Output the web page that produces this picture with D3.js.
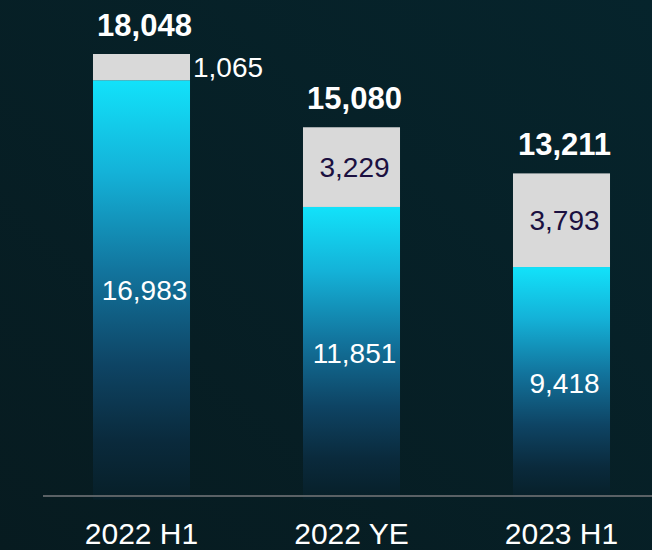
<!DOCTYPE html>
<html>
<head>
<meta charset="utf-8">
<script src="https://cdn.jsdelivr.net/npm/d3@7"></script>
<style>
  html, body { margin: 0; padding: 0; background: #062027; }
  body { width: 652px; height: 550px; overflow: hidden; }
  svg { display: block; font-family: "Liberation Sans", Arial, sans-serif; }
</style>
</head>
<body>
<svg id="chart" width="652" height="550"></svg>
<script>
// Periods and the two stacked components of each bar
const categories = ["2022 H1", "2022 YE", "2023 H1"];
const baseValues = [16983, 11851, 9418];   // lower (blue) segment
const topValues  = [1065, 3229, 3793];     // upper (grey) segment
const totals     = [18048, 15080, 13211];  // stacked total shown above each bar

const W = 652, H = 550;
const svg = d3.select("#chart");
const defs = svg.append("defs");

// Dark teal backdrop
const bg = defs.append("linearGradient").attr("id", "bg")
  .attr("x1", 1).attr("y1", 0).attr("x2", 0).attr("y2", 1);
bg.append("stop").attr("offset", "0%").attr("stop-color", "#06242c");
bg.append("stop").attr("offset", "100%").attr("stop-color", "#071b20");
svg.append("rect").attr("width", W).attr("height", H).attr("fill", "url(#bg)");

// Cyan-to-dark fill for the lower segment
const barGrad = defs.append("linearGradient").attr("id", "barGrad")
  .attr("x1", 0).attr("y1", 0).attr("x2", 0).attr("y2", 1);
[
  ["0%", "#12e2fa"],
  ["22%", "#14b2d8"],
  ["46%", "#12739c"],
  ["68%", "#0e4464"],
  ["86%", "#0a2a3c"],
  ["100%", "#071f28"]
].forEach(([o, c]) => barGrad.append("stop").attr("offset", o).attr("stop-color", c));

const x = d3.scaleBand()
  .domain(categories)
  .range([36.5, 666.5])
  .paddingInner(0.538)
  .paddingOuter(0.269);

const y = d3.scaleLinear()
  .domain([0, d3.max(totals)])
  .range([499.5, 54]);

const rows = categories.map((c, i) => ({
  cat: c, base: baseValues[i], top: topValues[i], total: totals[i]
}));

const stack = d3.stack().keys(["base", "top"])(rows);

const labelShift = 3;

// Blue lower segments
svg.append("g").selectAll("rect")
  .data(stack[0])
  .join("rect")
  .attr("x", d => x(d.data.cat))
  .attr("width", x.bandwidth())
  .attr("y", d => y(d[1]))
  .attr("height", d => y(d[0]) - y(d[1]))
  .attr("fill", "url(#barGrad)");

// Grey upper segments
svg.append("g").selectAll("rect")
  .data(stack[1])
  .join("rect")
  .attr("x", d => x(d.data.cat))
  .attr("width", x.bandwidth())
  .attr("y", d => y(d[1]))
  .attr("height", d => y(d[0]) - y(d[1]))
  .attr("fill", "#d9d9d9");

// Baseline rule
svg.append("line")
  .attr("x1", 43).attr("x2", W)
  .attr("y1", 496).attr("y2", 496)
  .attr("stroke", "#5a6165").attr("stroke-width", 2);

const fmt = d3.format(",");

// Values inside the blue segments
svg.append("g").selectAll("text")
  .data(stack[0])
  .join("text")
  .attr("x", d => x(d.data.cat) + x.bandwidth() / 2 + labelShift)
  .attr("y", d => (y(d[0]) + y(d[1])) / 2 + 10)
  .attr("text-anchor", "middle")
  .attr("font-size", 28)
  .attr("fill", "#ffffff")
  .text(d => fmt(d.data.base));

// Values of the grey segments: inside when there is room, otherwise to the right
svg.append("g").selectAll("text")
  .data(stack[1])
  .join("text")
  .each(function (d) {
    const h = y(d[0]) - y(d[1]);
    const t = d3.select(this);
    const mid = (y(d[0]) + y(d[1])) / 2 + 10;
    if (h < 40) {
      t.attr("x", x(d.data.cat) + x.bandwidth() + 3)
       .attr("text-anchor", "start")
       .attr("fill", "#ffffff");
    } else {
      t.attr("x", x(d.data.cat) + x.bandwidth() / 2 + labelShift)
       .attr("text-anchor", "middle")
       .attr("fill", "#1b1040");
    }
    t.attr("y", mid);
  })
  .attr("font-size", 28)
  .text(d => fmt(d.data.top));

// Totals above each bar
svg.append("g").selectAll("text")
  .data(rows)
  .join("text")
  .attr("x", d => x(d.cat) + x.bandwidth() / 2 + labelShift)
  .attr("y", d => y(d.total) - 18)
  .attr("text-anchor", "middle")
  .attr("font-size", 31)
  .attr("font-weight", "bold")
  .attr("fill", "#ffffff")
  .text(d => fmt(d.total));

// Category axis labels
svg.append("g").selectAll("text")
  .data(categories)
  .join("text")
  .attr("x", d => x(d) + x.bandwidth() / 2)
  .attr("y", 544)
  .attr("text-anchor", "middle")
  .attr("font-size", 30)
  .attr("fill", "#ffffff")
  .text(d => d);
</script>
</body>
</html>
